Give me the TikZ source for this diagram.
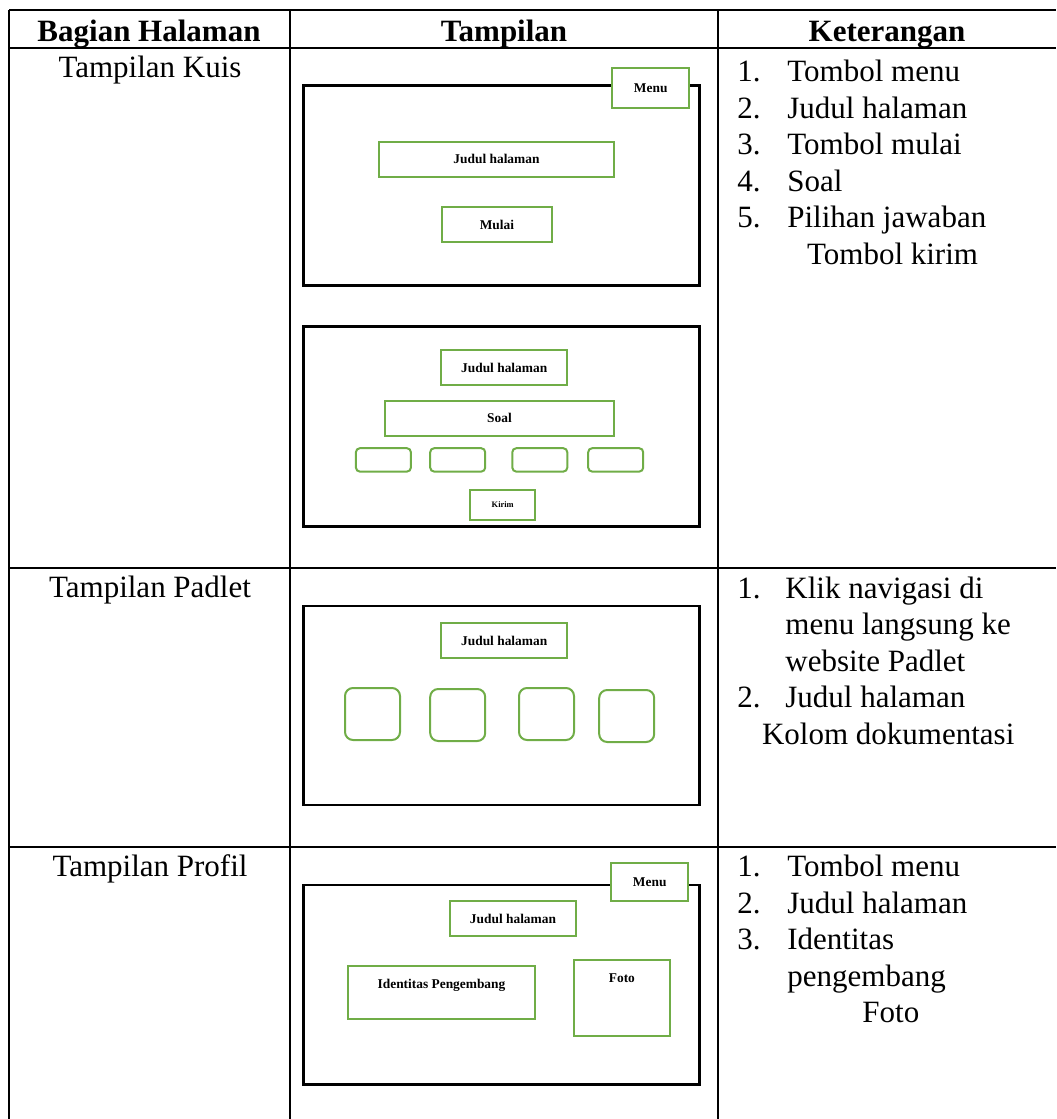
\documentclass[tikz,border=0pt]{standalone}
\usepackage{fontspec}
\setmainfont{Liberation Serif}
\usetikzlibrary{positioning}

\definecolor{mockgreen}{RGB}{112,173,71}

\begin{document}
\begin{tikzpicture}[
  x=0.5pt, y=-0.5pt,
  rule/.style={line width=1pt},
  frame/.style={rectangle, draw, line width=1.4pt, minimum width=198pt, inner sep=0pt},
  mocktext/.style={font=\fontsize{6.7}{8}\selectfont\bfseries},
  box/.style={rectangle, draw=mockgreen, line width=1pt, fill=white, inner sep=0pt, mocktext},
  opt/.style={box, rounded corners=2pt, minimum width=27.5pt, minimum height=11.7pt},
  tile/.style={box, rounded corners=4pt, minimum width=27.5pt, minimum height=26pt},
  head/.style={font=\fontsize{15.5}{18}\selectfont\bfseries, anchor=base, inner sep=0pt},
  cell/.style={font=\fontsize{15.5}{18}\selectfont, anchor=base, inner sep=0pt},
  ket/.style={font=\fontsize{15.5}{18}\selectfont, anchor=base west, inner sep=0pt}
]
  \useasboundingbox (0,0) rectangle (1056,1119);

  % Table rules
  \draw[rule] (9,10) -- (1056,10);
  \draw[rule] (9,48) -- (1056,48);
  \draw[rule] (9,568) -- (1056,568);
  \draw[rule] (9,847) -- (1056,847);
  \draw[rule] (9,10) -- (9,1119);
  \draw[rule] (290,10) -- (290,1119);
  \draw[rule] (718,10) -- (718,1119);

  % Header
  \node[head] (hbagian) at (149,41.7) {Bagian Halaman};
  \node[head] (htampil) at (504,41.7) {Tampilan};
  \node[head] (hket) at (887,41.7) {Keterangan};

  % Page names
  \node[cell] (nkuis) at (150,77) {Tampilan Kuis};
  \node[cell] (npadlet) at (150,597) {Tampilan Padlet};
  \node[cell] (nprofil) at (150,876) {Tampilan Profil};

  % Quiz: start screen
  \node[frame, minimum height=99.8pt] (kuisA) at (501.3,185.5) {};
  \node[box, minimum width=38.7pt, minimum height=19.7pt] (menuA) at (650.7,88) {Menu};
  \node[box, minimum width=117.5pt, minimum height=17.5pt] (judulA) at (496.5,159.2) {Judul halaman};
  \node[box, minimum width=55.2pt, minimum height=17.5pt] (mulai) at (496.9,224.8) {Mulai};

  % Quiz: question screen
  \node[frame, minimum height=100pt] (kuisB) at (501.3,426.7) {};
  \node[box, minimum width=63.2pt, minimum height=17.5pt] (judulB) at (504.2,367.5) {Judul halaman};
  \node[box, minimum width=114.5pt, minimum height=17.7pt] (soal) at (499.5,418.4) {Soal};
  \foreach \x [count=\i] in {383.4,457.7,539.8,615.7}
    \node[opt] (pilihan\i) at (\x,459.9) {};
  \node[box, minimum width=32.7pt, minimum height=15pt,
        font=\fontsize{4.2}{5}\selectfont\bfseries] (kirim) at (502.7,505) {Kirim};

  % Padlet screen
  \node[frame, minimum height=99.5pt] (padlet) at (501.3,705.5) {};
  \node[box, minimum width=63.2pt, minimum height=17.8pt] (judulP) at (504.2,640.5) {Judul halaman};
  \foreach \x/\y [count=\i] in {372.5/714,457.7/715,546.5/714,626.7/716}
    \node[tile] (kolom\i) at (\x,\y) {};

  % Profile screen
  \node[frame, minimum height=99.7pt] (profil) at (501.3,984.7) {};
  \node[box, minimum width=38.7pt, minimum height=19.2pt] (menuR) at (649.7,881.9) {Menu};
  \node[box, minimum width=63pt, minimum height=17.5pt] (judulR) at (513,918.5) {Judul halaman};
  \node[box, minimum width=93.8pt, minimum height=26.3pt,
        label={[mocktext, yshift=3.7pt]center:Identitas Pengembang}] (identitas) at (441.5,992.3) {};
  \node[box, minimum width=48.2pt, minimum height=37.9pt,
        label={[mocktext, yshift=10pt]center:Foto}] (foto) at (621.9,997.9) {};

  % Descriptions
  \foreach \x/\y/\t [count=\i] in {
      737/81.7/{\makebox[25pt][l]{1.}Tombol menu},
      737/118.2/{\makebox[25pt][l]{2.}Judul halaman},
      737/154.7/{\makebox[25pt][l]{3.}Tombol mulai},
      737/191.2/{\makebox[25pt][l]{4.}Soal},
      737/227.7/{\makebox[25pt][l]{5.}Pilihan jawaban},
      806.7/264.2/{Tombol kirim}}
    \node[ket] (ketkuis\i) at (\x,\y) {\t};
  \foreach \x/\y/\t [count=\i] in {
      737/598.3/{\makebox[24pt][l]{1.}Klik navigasi di},
      785/634.8/{menu langsung ke},
      785/671.3/{website Padlet},
      737/707.8/{\makebox[24pt][l]{2.}Judul halaman},
      761.7/744.3/{Kolom dokumentasi}}
    \node[ket] (ketpadlet\i) at (\x,\y) {\t};
  \foreach \x/\y/\t [count=\i] in {
      737/876.7/{\makebox[25pt][l]{1.}Tombol menu},
      737/913.2/{\makebox[25pt][l]{2.}Judul halaman},
      737/949.7/{\makebox[25pt][l]{3.}Identitas},
      787/986.2/{pengembang},
      862/1022.7/{Foto}}
    \node[ket] (ketprofil\i) at (\x,\y) {\t};
\end{tikzpicture}
\end{document}
